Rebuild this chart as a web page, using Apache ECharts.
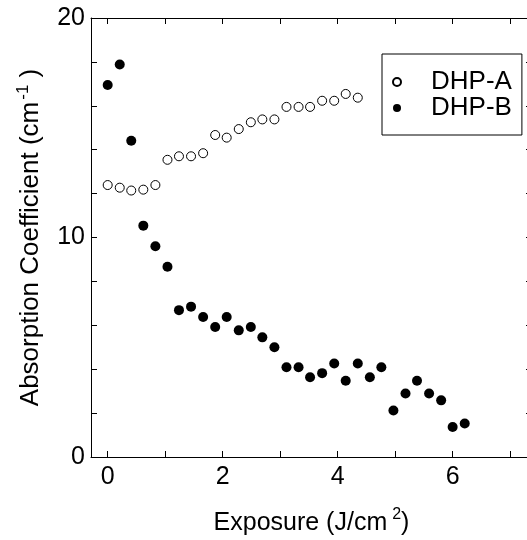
<!DOCTYPE html>
<html>
<head>
<meta charset="utf-8">
<script src="https://cdn.jsdelivr.net/npm/echarts@6/dist/echarts.min.js"></script>
<style>html,body{margin:0;padding:0;background:#fff;}#c{width:527px;height:540px;}</style>
</head>
<body>
<div id="c"></div>
<script>
var exposure = [0, 0.21, 0.41, 0.62, 0.83, 1.04, 1.24, 1.45, 1.66, 1.87, 2.07, 2.28, 2.49, 2.69, 2.90, 3.11, 3.32, 3.52, 3.73, 3.94, 4.14, 4.35, 4.56, 4.76, 4.97, 5.18, 5.38, 5.59, 5.80, 6.00, 6.21];
var dhpA = [12.39, 12.27, 12.14, 12.18, 12.39, 13.54, 13.70, 13.70, 13.84, 14.67, 14.55, 14.94, 15.25, 15.38, 15.38, 15.95, 15.95, 15.95, 16.23, 16.23, 16.54, 16.37];
var dhpB = [16.95, 17.88, 14.41, 10.54, 9.60, 8.67, 6.69, 6.85, 6.38, 5.92, 6.38, 5.77, 5.92, 5.45, 5.00, 4.09, 4.09, 3.63, 3.82, 4.26, 3.47, 4.26, 3.63, 4.09, 2.12, 2.89, 3.47, 2.89, 2.58, 1.37, 1.53];
var xTicks = [0, 1, 2, 3, 4, 5, 6, 7];
var xLabels = [0, 2, 4, 6];
var yLabels = [0, 10, 20];

function pairs(xs, ys) { return ys.map(function (v, i) { return [xs[i], v]; }); }

var FONT = "'Liberation Sans', Arial, sans-serif";
var axisLine = { show: true, onZero: false, lineStyle: { color: '#000', width: 1 } };
var tick = { show: true, inside: true, length: 6, lineStyle: { color: '#000', width: 1 } };

var chart = echarts.init(document.getElementById('c'), null, { renderer: 'canvas' });
chart.setOption({
  animation: false,
  backgroundColor: '#fff',
  textStyle: { fontFamily: FONT },
  grid: { left: 91, top: 18, width: 441, bottom: 83, containLabel: false, outerBoundsMode: 'none' },
  xAxis: [
    { type: 'value', min: -0.29, max: 7.38, position: 'bottom', axisLine: axisLine,
      axisTick: Object.assign({}, tick, { customValues: xTicks }),
      axisLabel: { customValues: xLabels, fontSize: 25, color: '#000', fontFamily: FONT, margin: 8 },
      splitLine: { show: false },
      name: '{a|Exposure (J/cm}{s|2}{a|)}', nameLocation: 'middle', nameGap: 50,
      nameTextStyle: { rich: { a: { fontSize: 25, fontFamily: FONT, color: '#000', lineHeight: 32 }, s: { fontSize: 16, fontFamily: FONT, color: '#000', verticalAlign: 'top', lineHeight: 16, padding: [0, 0, 0, 5] } } } },
    { type: 'value', min: -0.29, max: 7.38, position: 'top', axisLine: axisLine,
      axisTick: Object.assign({}, tick, { customValues: xTicks }),
      axisLabel: { show: false }, splitLine: { show: false } }
  ],
  yAxis: [
    { type: 'value', min: 0, max: 20, interval: 2, position: 'left', axisLine: axisLine,
      axisTick: tick,
      axisLabel: { customValues: yLabels, fontSize: 25, color: '#000', fontFamily: FONT, margin: 6 },
      splitLine: { show: false },
      name: '{a|Absorption Coefficient (cm}{s|-1}{a| )}', nameLocation: 'middle', nameGap: 44,
      nameTextStyle: { rich: { a: { fontSize: 26, fontFamily: FONT, color: '#000', lineHeight: 32 }, s: { fontSize: 17, fontFamily: FONT, color: '#000', verticalAlign: 'top', lineHeight: 17, padding: [0, 0, 0, 2] } } } },
    { type: 'value', min: 0, max: 20, interval: 2, position: 'right', axisLine: axisLine,
      axisTick: tick, axisLabel: { show: false }, splitLine: { show: false } }
  ],
  legend: {
    orient: 'vertical', left: 382, top: 54,
    padding: [15, 10, 14, 10], itemGap: 0, itemWidth: 8, itemHeight: 8,
    borderColor: '#000', borderWidth: 1,
    textStyle: { fontSize: 26, color: '#000', fontFamily: FONT, lineHeight: 25, padding: [0, 0, 0, 25] },
    data: ['DHP-A', 'DHP-B']
  },
  series: [
    { name: 'DHP-A', type: 'scatter', symbol: 'circle', symbolSize: 9,
      itemStyle: { color: '#fff', borderColor: '#000', borderWidth: 1, opacity: 1 },
      data: pairs(exposure, dhpA) },
    { name: 'DHP-B', type: 'scatter', symbol: 'circle', symbolSize: 10,
      itemStyle: { color: '#000', borderColor: '#000', borderWidth: 0, opacity: 1 },
      data: pairs(exposure, dhpB) }
  ]
});
</script>
</body>
</html>
